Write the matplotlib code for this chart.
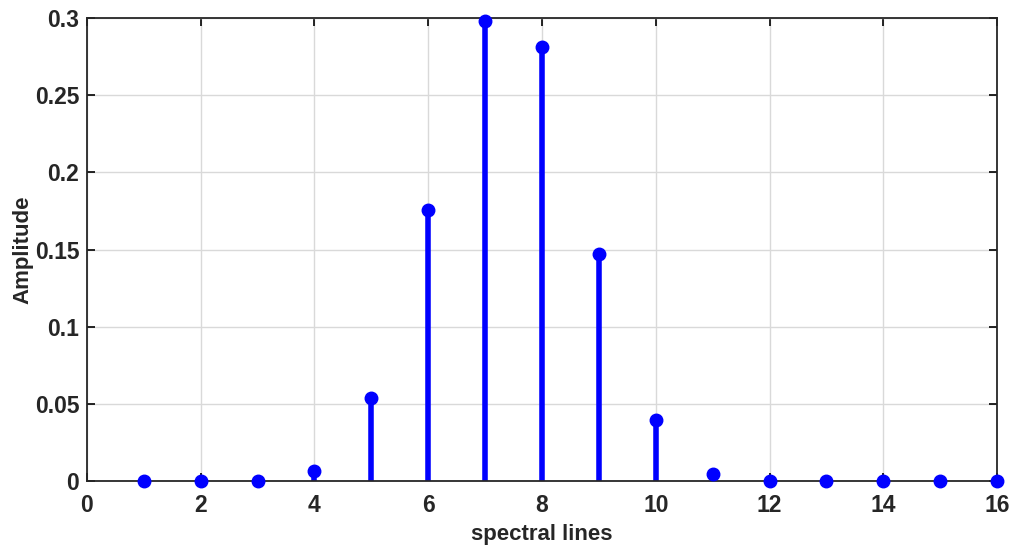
import matplotlib
matplotlib.use('Agg')
import matplotlib.pyplot as plt

# spectral line index and amplitude
lines = [1, 2, 3, 4, 5, 6, 7, 8, 9, 10, 11, 12, 13, 14, 15, 16]
amplitude = [0.0, 0.0, 0.0, 0.007, 0.054, 0.1755, 0.298, 0.281, 0.147,
             0.0395, 0.0045, 0.0, 0.0, 0.0, 0.0, 0.0]

xticks = [0, 2, 4, 6, 8, 10, 12, 14, 16]
yticks = [0, 0.05, 0.1, 0.15, 0.2, 0.25, 0.3]
ytick_labels = ["0", "0.05", "0.1", "0.15", "0.2", "0.25", "0.3"]

plt.rcParams['font.family'] = ['Liberation Sans', 'DejaVu Sans']
plt.rcParams['font.weight'] = 'bold'

fig = plt.figure(figsize=(10.11, 5.47), dpi=100)
ax = fig.add_axes([0.086, 0.12, 0.9002, 0.847])

markerline, stemlines, baseline = ax.stem(lines, amplitude, basefmt=' ')
plt.setp(stemlines, color='#0000ff', linewidth=4.0)
plt.setp(markerline, color='#0000ff', markersize=9, clip_on=False, zorder=4)

ax.set_xlim(0, 16)
ax.set_ylim(0, 0.3)
ax.set_xticks(xticks)
ax.set_yticks(yticks)
ax.set_yticklabels(ytick_labels)
ax.tick_params(direction='in', top=True, right=True, labelsize=16.5,
               length=6, width=1.2, labelcolor='#262626')
ax.tick_params(axis='x', pad=9)
ax.tick_params(axis='y', pad=5.5)
ax.grid(True, color='#d9d9d9', linewidth=1.0)
ax.set_axisbelow(True)
for s in ax.spines.values():
    s.set_linewidth(1.3)
    s.set_color('#262626')

ax.set_xlabel("spectral lines", fontsize=16, fontweight='bold', color='#262626', labelpad=5)
ax.set_ylabel("Amplitude", fontsize=16, fontweight='bold', color='#262626', labelpad=1)

fig.savefig("out.png", dpi=100)
